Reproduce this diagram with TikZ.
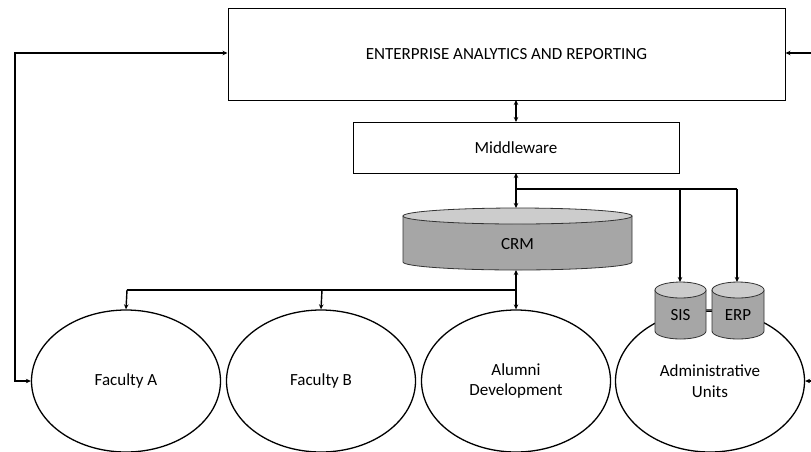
\documentclass[tikz,border=0pt]{standalone}
\usepackage{fontspec}
\setmainfont{Carlito}
\usetikzlibrary{arrows.meta,shapes.geometric,calc}
\begin{document}
\begin{tikzpicture}[x=1pt,y=-1pt,
  every node/.style={font=\fontsize{17}{20.5}\selectfont, inner sep=0pt},
  box/.style={draw=black, line width=1pt, fill=white},
  unit/.style={draw=black, line width=1.3pt, ellipse, minimum width=189pt, minimum height=142pt, align=center},
  conn/.style={line width=1.4pt, -{Stealth[length=5pt,width=4.5pt]}},
  dconn/.style={line width=1.4pt, {Stealth[length=5pt,width=4.5pt]}-{Stealth[length=5pt,width=4.5pt]}},
  cylbody/.style={draw=black!80, line width=0.8pt, fill=black!35},
  cyltop/.style={draw=black!80, line width=0.8pt, fill=black!20},
]
\useasboundingbox (0,0) rectangle (811,451);
\fill[white] (0,0) rectangle (811,451);

% top box
\node[box, minimum width=557pt, minimum height=92pt] (ear) at (506.5,54) {ENTERPRISE ANALYTICS AND REPORTING};
% middleware
\node[box, minimum width=326pt, minimum height=51pt] (mw) at (516,147.5) {Middleware};

% CRM cylinder
\path[cylbody] (403,216) -- (403,262) arc[start angle=180,end angle=0,x radius=114.5,y radius=8] -- (632,216) -- cycle;
\path[cyltop] (517.5,216) ellipse[x radius=114.5,y radius=8];
\node[minimum width=229pt, minimum height=62pt] (crm) at (517.5,239) {};
\node at (517.5,244) {CRM};
\coordinate (crmtop) at (516,208);
\coordinate (crmbot) at (516,270);

% unit ellipses
\node[unit] (fa) at (126,381) {Faculty A};
\node[unit] (fb) at (321,381) {Faculty B};
\node[unit] (al) at (516,381) {Alumni\\Development};
\node[unit] (ad) at (710,381) {Administrative\\Units};

% SIS / ERP cylinders
\draw[line width=1pt] (706,311) -- (712,311);
\path[cylbody] (655,290) -- (655,331) arc[start angle=180,end angle=0,x radius=25.5,y radius=8] -- (706,290) -- cycle;
\path[cyltop] (680.5,290) ellipse[x radius=25.5,y radius=8];
\node (sis) at (680.5,315) {SIS};
\coordinate (sistop) at (680,282);
\path[cylbody] (712,290) -- (712,331) arc[start angle=180,end angle=0,x radius=26,y radius=8] -- (764,290) -- cycle;
\path[cyltop] (738,290) ellipse[x radius=26,y radius=8];
\node (erp) at (738,315) {ERP};
\coordinate (erptop) at (737,282);

% connectors
\draw[dconn] (516,100) -- (516,122);
\draw[dconn] (516,173) -- (crmtop);
\coordinate (j1) at (516,189);
\draw[line width=1.4pt] (j1) -- (737,189);
\draw[conn] (680,189) -- (sistop);
\draw[conn] (737,189) -- (erptop);

\draw[dconn] (crmbot) -- (al.north);
\coordinate (j2) at (516,290);
\draw[line width=1.4pt] (j2) -- (127,290);
\draw[conn] (127,290) -- (fa.north);
\draw[conn] (322,290) -- (fb.north);

% left loop
\draw[dconn] (fa.west) -- (15,381) -- (15,53) -- (ear.west |- 0,53);
% right loop (continues off the picture)
\draw[line width=1.4pt, -{Stealth[length=5pt,width=4.5pt]}] (830,53) -- (ear.east |- 0,53);
\draw[line width=1.4pt, -{Stealth[length=5pt,width=4.5pt]}] (830,381) -- (ad.east);
\end{tikzpicture}
\end{document}
